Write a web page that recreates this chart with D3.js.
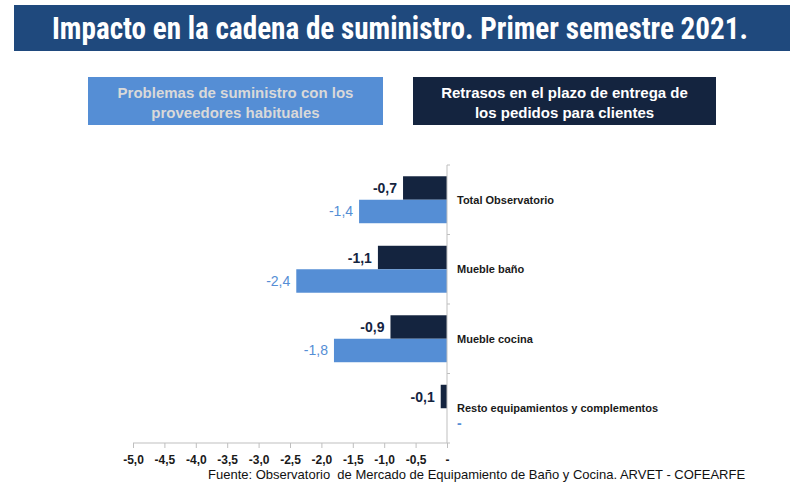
<!DOCTYPE html>
<html>
<head>
<meta charset="utf-8">
<script src="https://cdn.jsdelivr.net/npm/d3@7"></script>
<style>
  html, body { margin: 0; padding: 0; background: #fff; }
  svg { display: block; font-family: Arial, "Liberation Sans", sans-serif; }
</style>
</head>
<body>
<div id="chart"></div>
<script>
const categories = ['Total Observatorio', 'Mueble baño', 'Mueble cocina', 'Resto equipamientos y complementos'];
const proveedores = [-1.4, -2.4, -1.8, 0];
const retrasos = [-0.7, -1.1, -0.9, -0.1];
const xTicks = [-5, -4.5, -4, -3.5, -3, -2.5, -2, -1.5, -1, -0.5, 0];

const COLORS = { light: '#558ed5', dark: '#14243f', title: '#1f497d', axis: '#bfbfbf', text: '#1a1a1a' };

const svg = d3.select('#chart').append('svg')
  .attr('width', 804)
  .attr('height', 492);

// Title bar
svg.append('rect')
  .attr('x', 14).attr('y', 5).attr('width', 776).attr('height', 46)
  .attr('fill', COLORS.title);
svg.append('text')
  .attr('x', 400).attr('y', 39)
  .attr('text-anchor', 'middle')
  .attr('fill', '#fff')
  .attr('font-family', '"Liberation Sans Narrow", "Roboto Condensed", "DejaVu Sans Condensed", Arial, sans-serif')
  .attr('font-weight', 'bold')
  .attr('font-size', 31)
  .attr('textLength', 696)
  .attr('lengthAdjust', 'spacingAndGlyphs')
  .text('Impacto en la cadena de suministro. Primer semestre 2021.');

// Legend boxes
const fmt = v => v === 0 ? '-' : d3.format('.1f')(v).replace('.', ',').replace('−', '-');
const legend = [
  { x: 88, w: 295, fill: COLORS.light, color: '#d9d9d9', lines: ['Problemas de suministro con los', 'proveedores habituales'] },
  { x: 413, w: 303, fill: COLORS.dark, color: '#fff', lines: ['Retrasos en el plazo de entrega de', 'los pedidos para clientes'] }
];
const lg = svg.append('g').selectAll('g').data(legend).join('g');
lg.append('rect')
  .attr('x', d => d.x).attr('y', 77).attr('width', d => d.w).attr('height', 48)
  .attr('fill', d => d.fill);
lg.each(function (d) {
  d3.select(this).selectAll('text').data(d.lines).join('text')
    .attr('x', d.x + d.w / 2)
    .attr('y', (t, i) => 98 + i * 20)
    .attr('text-anchor', 'middle')
    .attr('fill', d.color)
    .attr('font-weight', 'bold')
    .attr('font-size', 15)
    .text(t => t);
});

// Scales
const x = d3.scaleLinear().domain([-5, 0]).range([133, 447]);
const y = d3.scaleBand().domain(categories).range([165, 443]);
const yInner = d3.scaleBand().domain(['retrasos', 'proveedores']).range([0, y.bandwidth()]).paddingOuter(0.48);

const rows = categories.map((c, i) => ({ cat: c, proveedores: proveedores[i], retrasos: retrasos[i] }));
const series = [
  { key: 'retrasos', color: COLORS.dark, weight: 'bold' },
  { key: 'proveedores', color: COLORS.light, weight: 'normal' }
];

// Bars
const barG = svg.append('g');
series.forEach(s => {
  barG.selectAll('rect.' + s.key).data(rows).join('rect')
    .attr('class', s.key)
    .attr('x', d => x(Math.min(0, d[s.key])))
    .attr('y', d => y(d.cat) + yInner(s.key))
    .attr('width', d => Math.abs(x(d[s.key]) - x(0)))
    .attr('height', yInner.bandwidth())
    .attr('fill', s.color);

  barG.selectAll('text.' + s.key).data(rows).join('text')
    .attr('class', s.key)
    .attr('x', d => d[s.key] < 0 ? x(d[s.key]) - 6 : x(0) + 10)
    .attr('y', d => y(d.cat) + yInner(s.key) + yInner.bandwidth() / 2 + (d[s.key] < 0 ? 5 : 8))
    .attr('text-anchor', d => d[s.key] < 0 ? 'end' : 'start')
    .attr('fill', s.color)
    .attr('font-weight', d => d[s.key] === 0 ? 'bold' : s.weight)
    .attr('font-size', 14)
    .text(d => fmt(d[s.key]));
});

// Vertical axis (category)
const yAxis = svg.append('g').attr('transform', `translate(${x(0)},0)`);
yAxis.append('line').attr('x1', 0).attr('x2', 0).attr('y1', 165).attr('y2', 443).attr('stroke', COLORS.axis);
yAxis.selectAll('line.t').data(categories).join('line')
  .attr('class', 't')
  .attr('x1', 0).attr('x2', 3)
  .attr('y1', d => y(d)).attr('y2', d => y(d))
  .attr('stroke', COLORS.axis);

svg.append('g').selectAll('text').data(categories).join('text')
  .attr('x', 457)
  .attr('y', d => y(d) + y.bandwidth() / 2 + 4)
  .attr('fill', COLORS.text)
  .attr('font-weight', 'bold')
  .attr('font-size', 11)
  .text(d => d);

// Horizontal axis (values)
const xAxis = svg.append('g')
  .attr('transform', 'translate(0,443)')
  .call(d3.axisBottom(x).tickValues(xTicks).tickSize(5).tickSizeOuter(0).tickFormat(fmt));
xAxis.select('.domain').attr('stroke', COLORS.axis).attr('d', `M${x(-5)},0H${x(0) + 3}`);
xAxis.selectAll('.tick line').attr('stroke', COLORS.axis);
xAxis.selectAll('.tick text')
  .attr('y', 12)
  .attr('fill', COLORS.text)
  .attr('font-family', 'Arial, "Liberation Sans", sans-serif')
  .attr('font-weight', 'bold')
  .attr('font-size', 12);

// Source
svg.append('text')
  .attr('x', 208).attr('y', 479)
  .attr('fill', '#111')
  .attr('font-size', 13)
  .attr('xml:space', 'preserve')
  .text('Fuente: Observatorio  de Mercado de Equipamiento de Baño y Cocina. ARVET - COFEARFE');
</script>
</body>
</html>
